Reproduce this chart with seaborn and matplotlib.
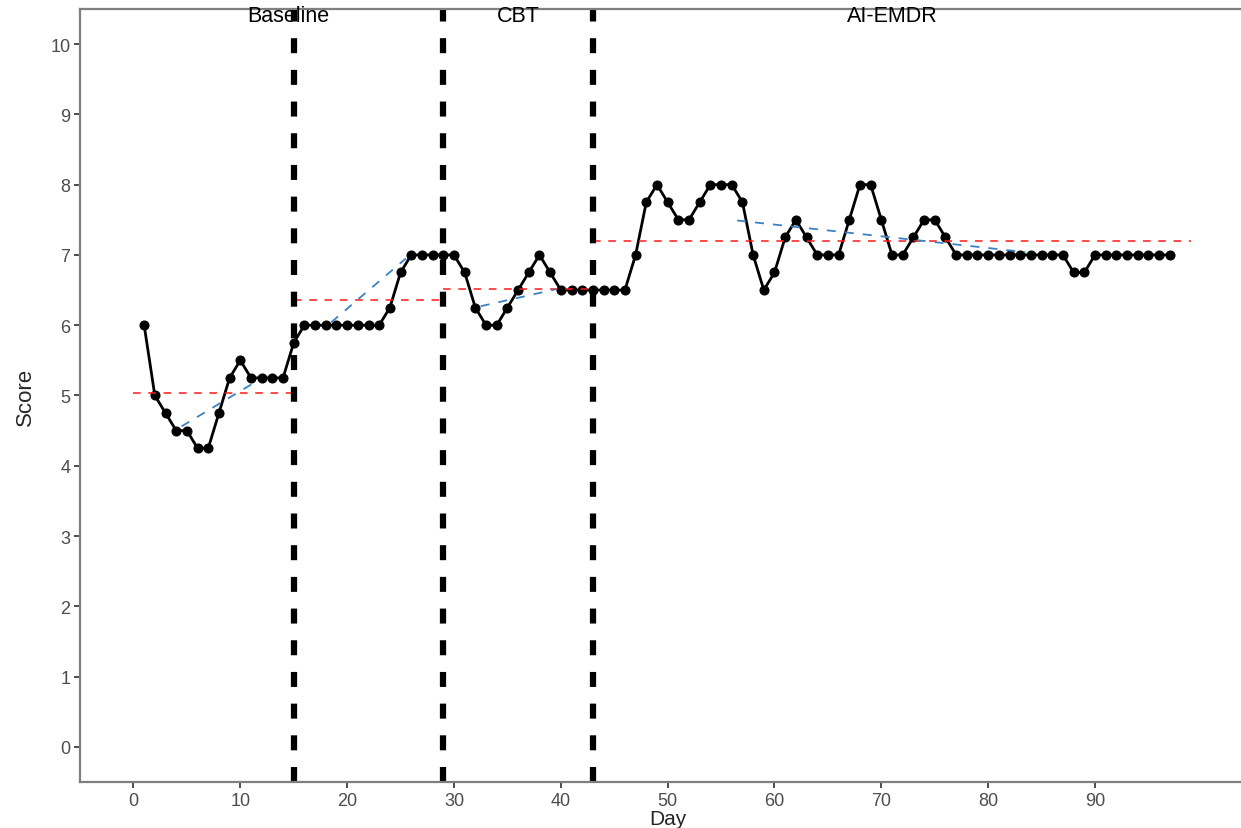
import numpy as np
import pandas as pd
import matplotlib.pyplot as plt
import seaborn as sns

# Daily scores, day 1..97
days = list(range(1, 98))
scores = [6, 5, 4.75, 4.5, 4.5, 4.25, 4.25, 4.75, 5.25, 5.5, 5.25, 5.25, 5.25, 5.25, 5.75,
          6, 6, 6, 6, 6, 6, 6, 6, 6.25, 6.75, 7, 7, 7, 7,
          7, 6.75, 6.25, 6, 6, 6.25, 6.5, 6.75, 7, 6.75, 6.5, 6.5, 6.5, 6.5,
          6.5, 6.5, 6.5, 7, 7.75, 8, 7.75, 7.5, 7.5, 7.75, 8, 8, 8, 7.75, 7, 6.5, 6.75,
          7.25, 7.5, 7.25, 7, 7, 7, 7.5, 8, 8, 7.5, 7, 7, 7.25, 7.5, 7.5, 7.25,
          7, 7, 7, 7, 7, 7, 7, 7, 7, 7, 7, 6.75, 6.75,
          7, 7, 7, 7, 7, 7, 7, 7]

# Phase boundaries and summary lines
phase_breaks = [15, 29, 43]
phase_names = ["Baseline", "CBT", "AI-EMDR"]
label_x = [14.5, 36, 71]
mean_start = [0, 15, 29, 43]
mean_end = [15, 29, 43, 99]
mean_val = [5.03, 6.36, 6.52, 7.2]
trend_x0 = [4.5, 18.5, 32.5, 56.5]
trend_x1 = [11.5, 25.5, 39.5, 83.5]
trend_y0 = [4.56, 6.04, 6.27, 7.49]
trend_y1 = [5.2, 6.95, 6.51, 7.04]

df = pd.DataFrame({"Day": days, "Score": scores})

sns.set_style("white")
plt.rcParams["font.family"] = ["Liberation Sans", "DejaVu Sans"]

fig = plt.figure(figsize=(12.41, 8.29), dpi=100)
ax = fig.add_axes([0.0645, 0.0555, 0.947, 0.9325])

sns.lineplot(data=df, x="Day", y="Score", ax=ax, color="black", linewidth=2.0,
             marker="o", markersize=6.5, markeredgecolor="black")

for a, b, m in zip(mean_start, mean_end, mean_val):
    ax.plot([a, b], [m, m], color="#ff1a1a", linestyle=(0, (5, 5)), linewidth=1.1)
for a, b, c, d in zip(trend_x0, trend_x1, trend_y0, trend_y1):
    ax.plot([a, b], [c, d], color="#3a82c4", linestyle=(0, (5, 5)), linewidth=1.3)

for x in phase_breaks:
    ax.axvline(x, color="black", linestyle=(0, (2.4, 2.67)), linewidth=4.5)

for x, name in zip(label_x, phase_names):
    ax.text(x, 10.4, name, ha="center", va="center", fontsize=15.5, color="black")

ax.set_xlim(-5, 105)
ax.set_ylim(-0.5, 10.5)
ax.set_xticks(range(0, 100, 10))
ax.set_yticks(range(0, 11))
ax.set_xlabel("Day", fontsize=15, labelpad=0)
ax.set_ylabel("Score", fontsize=16, labelpad=10,
              family=["Liberation Sans Narrow", "Liberation Sans", "DejaVu Sans"])

for s in ["left", "bottom", "top"]:
    ax.spines[s].set_color("#7f7f7f")
    ax.spines[s].set_linewidth(1.6)
ax.spines["right"].set_visible(False)
ax.tick_params(axis="both", direction="out", length=4, width=1.4, color="#4d4d4d",
               labelcolor="#4d4d4d", labelsize=13, left=True, bottom=True, pad=3)

plt.savefig("out.png", dpi=100)
